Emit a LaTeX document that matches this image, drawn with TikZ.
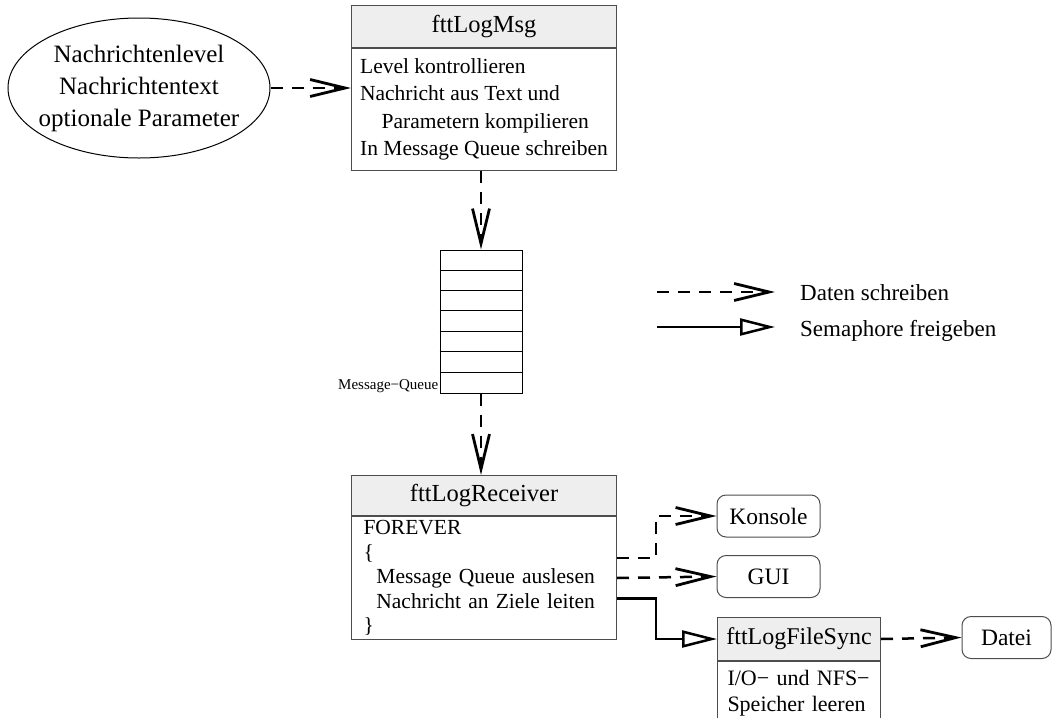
\documentclass[tikz,border=0pt]{standalone}
\usepackage{fontspec}
\setmainfont{Liberation Serif}
\usetikzlibrary{arrows.meta, positioning, shapes.geometric, calc}
\definecolor{kopfgrau}{HTML}{EEEEEE}
\definecolor{randgrau}{HTML}{4D4D4D}

\tikzset{
  kopf/.style={draw=randgrau, line width=1pt, fill=kopfgrau, inner sep=0pt, font=\fontsize{24.5}{28}\selectfont},
  rumpf/.style={draw=randgrau, line width=1pt, fill=white, align=left, inner ysep=0pt},
  ziel/.style={draw=randgrau, line width=1pt, rounded corners=9pt, minimum width=103pt, minimum height=42pt, inner sep=0pt, font=\fontsize{23.5}{28}\selectfont},
  daten/.style={line width=2.5pt, dash pattern=on 12pt off 9pt, -{Straight Barb[length=35pt, width=17pt, line width=2.8pt]}},
  sema/.style={line width=2.5pt, -{Triangle[open, length=35pt, width=17pt, line width=2.5pt, fill=white]}},
}

\begin{document}
\begin{tikzpicture}[x=1pt, y=-1pt, every node/.style={font=\fontsize{21.5}{26}\selectfont}]
  \useasboundingbox (0,0) rectangle (1053,718);

  % Aufruf fttLogMsg
  \node[draw, ellipse, line width=1pt, minimum width=262pt, minimum height=140pt, inner sep=0pt] (param) at (139,88) {};
  \node[align=center, font=\fontsize{25}{32}\selectfont] (paramtext) at (param) {Nachrichtenlevel\\Nachrichtentext\\optionale Parameter};
  \node[kopf, minimum width=265pt, minimum height=42pt, anchor=north west] (msg) at (351,5) {fttLogMsg};
  \node[rumpf, below=0pt of msg, minimum width=265pt, minimum height=122pt, inner xsep=0pt, font=\fontsize{21.5}{27.5}\selectfont] (msgbody)
    {Level kontrollieren\\Nachricht aus Text und\\\hspace*{1em}Parametern kompilieren\\In Message Queue schreiben};
  \draw[daten] (param.east) -- (param.east -| msgbody.west);

  % Message-Queue
  \node[draw, line width=1pt, minimum width=82pt, minimum height=143pt, inner sep=0pt] (queue) at (481,321.5) {};
  \foreach \i in {1,...,6}
    \draw[line width=0.8pt] ($(queue.north west)+(0,\i*20.43)$) -- ($(queue.north east)+(0,\i*20.43)$);
  \node[font=\fontsize{15}{18}\selectfont, anchor=base east, inner sep=1pt] (qlabel) at ([yshift=4pt]queue.south west) {Message−Queue};
  \draw[daten] (msgbody.south -| queue.north) -- (queue.north);

  % Empfaenger
  \node[kopf, minimum width=265pt, minimum height=40pt, anchor=north west] (recv) at (351,475) {fttLogReceiver};
  \node[rumpf, below=0pt of recv, text width=241pt, inner xsep=12pt, minimum height=123pt, font=\fontsize{21.5}{24.5}\selectfont] (recvbody)
    {FOREVER\\\{\\\hspace*{0.6em}Message Queue auslesen\\\hspace*{0.6em}Nachricht an Ziele leiten\\\}};
  \draw[daten] (queue.south) -- (queue.south |- recv.north);

  % Ziele
  \node[ziel] (konsole) at (768.5,516) {Konsole};
  \node[ziel] (gui) at (768.5,576.5) {GUI};
  \node[kopf, minimum width=163pt, minimum height=43pt, anchor=north west, font=\fontsize{24}{28}\selectfont] (sync) at (717,617) {fttLogFileSync};
  \node[rumpf, below=0pt of sync, text width=143pt, inner xsep=10pt, inner ysep=9pt, font=\fontsize{22}{26}\selectfont] (syncbody)
    {I/O− und NFS−\\Speicher leeren};
  \node[ziel, minimum width=89pt] (datei) at (1006.5,637.5) {Datei};

  \draw[daten] ([yshift=20pt]recvbody.east) -- ++(39,0) |- (konsole.west);
  \draw[daten] (recvbody.east) -- (gui.west);
  \draw[sema] ([yshift=-20.5pt]recvbody.east) -- ++(39,0) |- (sync.west);
  \draw[daten] (sync.east) -- (datei.west);

  % Legende
  \coordinate (d1) at (657,292);
  \coordinate (d2) at (775,292);
  \coordinate (s1) at (657,327);
  \coordinate (s2) at (775,327);
  \draw[daten] (d1) -- (d2);
  \draw[sema] (s1) -- (s2);
  \node[font=\fontsize{23}{28}\selectfont, anchor=base west, inner sep=0pt] (dlabel) at (800,300) {Daten schreiben};
  \node[font=\fontsize{23}{28}\selectfont, anchor=base west, inner sep=0pt] (slabel) at (800,336) {Semaphore freigeben};
\end{tikzpicture}
\end{document}
